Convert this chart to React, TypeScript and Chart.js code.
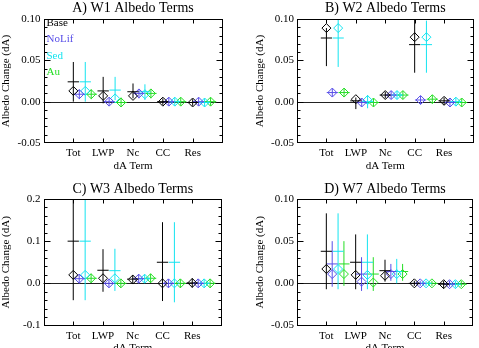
import React, { useEffect, useRef } from 'react';
import { Chart, registerables } from 'chart.js';

Chart.register(...registerables);

// ---------- data ----------
const categories = ['Tot', 'LWP', 'Nc', 'CC', 'Res'];
const seriesNames = ['Base', 'NoLif', 'Sed', 'Au'];
const seriesColors = ['#000000', 'rgb(88,78,232)', 'rgb(20,228,240)', 'rgb(36,222,36)'];
const seriesOffsets = [0, 0.2, 0.4, 0.6];

const yTicksSmall = [-0.05, 0, 0.05, 0.1];
const yLabelsSmall = ['-0.05', '0.00', '0.05', '0.10'];
const yTicksLarge = [-0.1, 0, 0.1, 0.2];
const yLabelsLarge = ['-0.1', '0.0', '0.1', '0.2'];

// W1 : rows = Base, NoLif, Sed, Au ; columns = Tot, LWP, Nc, CC, Res
const w1Mean = [
  [0.013, 0.007, 0.007, 0.0, -0.001],
  [0.009, 0.0, 0.010, 0.0, 0.0],
  [0.013, 0.004, 0.009, 0.0, -0.001],
  [0.009, -0.001, 0.010, 0.0, 0.0],
];
const w1Median = [
  [0.024, 0.013, 0.012, 0.0, -0.001],
  [0.009, 0.0, 0.010, 0.0, 0.0],
  [0.024, 0.014, 0.012, 0.0, -0.001],
  [0.009, -0.001, 0.010, 0.0, 0.0],
];
const w1Lo = [
  [0.0, -0.002, 0.004, -0.004, -0.005],
  [0.003, -0.005, 0.004, -0.005, -0.005],
  [0.0, 0.002, 0.002, -0.005, -0.006],
  [0.003, -0.006, 0.004, -0.005, -0.005],
];
const w1Hi = [
  [0.048, 0.030, 0.022, 0.004, 0.003],
  [0.015, 0.005, 0.015, 0.005, 0.005],
  [0.048, 0.030, 0.021, 0.005, 0.004],
  [0.015, 0.005, 0.015, 0.005, 0.005],
];

// W2
const w2Mean = [
  [0.089, 0.003, 0.008, 0.078, 0.001],
  [0.011, -0.001, 0.008, 0.002, -0.001],
  [0.089, 0.002, 0.008, 0.078, 0.0],
  [0.011, -0.001, 0.008, 0.003, -0.001],
];
const w2Median = [
  [0.077, 0.001, 0.008, 0.069, 0.001],
  [0.011, -0.001, 0.008, 0.002, -0.001],
  [0.077, 0.0, 0.008, 0.069, 0.0],
  [0.011, -0.001, 0.008, 0.003, -0.001],
];
const w2Lo = [
  [0.043, -0.009, 0.004, 0.035, -0.004],
  [0.006, -0.006, 0.003, -0.003, -0.006],
  [0.042, -0.008, 0.003, 0.035, -0.005],
  [0.006, -0.006, 0.003, -0.002, -0.006],
];
const w2Hi = [
  [0.089, 0.005, 0.012, 0.105, 0.005],
  [0.016, 0.004, 0.013, 0.007, 0.004],
  [0.105, 0.008, 0.013, 0.098, 0.005],
  [0.016, 0.004, 0.013, 0.008, 0.004],
];

// W3
const w3Mean = [
  [0.020, 0.012, 0.009, 0.0, 0.001],
  [0.011, 0.0, 0.011, 0.0, 0.0],
  [0.020, 0.012, 0.011, 0.0, 0.0],
  [0.012, 0.0, 0.012, 0.0, 0.0],
];
const w3Median = [
  [0.100, 0.031, 0.010, 0.050, 0.001],
  [0.011, 0.0, 0.011, 0.0, 0.0],
  [0.100, 0.030, 0.011, 0.050, 0.0],
  [0.012, 0.0, 0.012, 0.0, 0.0],
];
const w3Lo = [
  [-0.040, -0.020, 0.0, -0.042, -0.010],
  [0.0, -0.010, 0.0, -0.010, -0.010],
  [-0.040, -0.018, 0.001, -0.045, -0.010],
  [0.001, -0.010, 0.001, -0.010, -0.010],
];
const w3Hi = [
  [0.25, 0.081, 0.020, 0.145, 0.012],
  [0.022, 0.010, 0.022, 0.010, 0.010],
  [0.25, 0.082, 0.021, 0.145, 0.010],
  [0.023, 0.010, 0.023, 0.010, 0.010],
];

// W7
const w7Mean = [
  [0.017, 0.010, 0.009, 0.0, -0.001],
  [0.011, 0.002, 0.011, 0.0, -0.001],
  [0.017, 0.010, 0.011, 0.0, -0.001],
  [0.011, 0.001, 0.011, 0.0, -0.001],
];
const w7Median = [
  [0.038, 0.025, 0.015, 0.0, -0.001],
  [0.023, 0.011, 0.014, 0.0, -0.001],
  [0.038, 0.025, 0.014, 0.0, -0.001],
  [0.023, 0.011, 0.014, 0.0, -0.001],
];
const w7Lo = [
  [-0.007, -0.007, 0.002, -0.003, -0.006],
  [-0.004, -0.009, 0.003, -0.003, -0.004],
  [-0.007, -0.007, 0.0, -0.003, -0.005],
  [-0.003, -0.009, 0.003, -0.003, -0.004],
];
const w7Hi = [
  [0.083, 0.058, 0.028, 0.003, 0.003],
  [0.050, 0.031, 0.023, 0.003, 0.003],
  [0.083, 0.058, 0.029, 0.003, 0.003],
  [0.050, 0.031, 0.023, 0.003, 0.003],
];

// ---------- layout ----------
const FONT = "'Liberation Serif', 'Times New Roman', serif";

type PanelCfg = {
  title: string;
  mean: number[][];
  median: number[][];
  lo: number[][];
  hi: number[][];
  yTicks: number[];
  yLabels: string[];
  yMin: number;
  yMax: number;
  minor: number;
  legend: boolean;
  left: number;
  top: number;
  w: number;
  h: number;
  pad: { left: number; right: number; top: number; bottom: number };
  titleGap: number;
};

const panels: PanelCfg[] = [
  {
    title: 'A) W1 Albedo Terms', mean: w1Mean, median: w1Median, lo: w1Lo, hi: w1Hi,
    yTicks: yTicksSmall, yLabels: yLabelsSmall, yMin: -0.05, yMax: 0.1, minor: 0.01, legend: true,
    left: 0, top: 0, w: 240, h: 174, pad: { left: 0, right: 17.5, top: 19, bottom: 1.7 }, titleGap: 11,
  },
  {
    title: 'B) W2 Albedo Terms', mean: w2Mean, median: w2Median, lo: w2Lo, hi: w2Hi,
    yTicks: yTicksSmall, yLabels: yLabelsSmall, yMin: -0.05, yMax: 0.1, minor: 0.01, legend: false,
    left: 240, top: 0, w: 239, h: 174, pad: { left: 13.5, right: 5, top: 19, bottom: 1.7 }, titleGap: 11,
  },
  {
    title: 'C) W3 Albedo Terms', mean: w3Mean, median: w3Median, lo: w3Lo, hi: w3Hi,
    yTicks: yTicksLarge, yLabels: yLabelsLarge, yMin: -0.1, yMax: 0.2, minor: 0.02, legend: false,
    left: 0, top: 174, w: 240, h: 184, pad: { left: 0, right: 18, top: 25, bottom: 3.2 }, titleGap: 9.5,
  },
  {
    title: 'D) W7 Albedo Terms', mean: w7Mean, median: w7Median, lo: w7Lo, hi: w7Hi,
    yTicks: yTicksSmall, yLabels: yLabelsSmall, yMin: -0.05, yMax: 0.1, minor: 0.01, legend: false,
    left: 240, top: 174, w: 239, h: 184, pad: { left: 13.5, right: 6, top: 25, bottom: 3.2 }, titleGap: 9.5,
  },
];

const ARM = 0.19;

function buildDatasets(p: PanelCfg) {
  const ds: any[] = [];
  seriesNames.forEach((name, s) => {
    const color = seriesColors[s];
    const bars: any[] = [];
    const arms: any[] = [];
    const pts: any[] = [];
    categories.forEach((_, c) => {
      const x = c + 1 + seriesOffsets[s];
      bars.push({ x, y: p.lo[s][c] }, { x, y: p.hi[s][c] }, { x, y: null });
      arms.push({ x: x - ARM, y: p.median[s][c] }, { x: x + ARM, y: p.median[s][c] }, { x, y: null });
      pts.push({ x, y: p.mean[s][c] });
    });
    ds.push({
      label: name + ' range', data: bars, showLine: true, spanGaps: false,
      borderColor: color, borderWidth: 1, pointRadius: 0, fill: false,
    });
    ds.push({
      label: name + ' median', data: arms, showLine: true, spanGaps: false,
      borderColor: color, borderWidth: 1, pointRadius: 0, fill: false,
    });
    ds.push({
      label: name, data: pts, showLine: false, pointStyle: 'rectRot', pointRadius: 4.5,
      borderColor: color, backgroundColor: 'rgba(0,0,0,0)', pointBorderWidth: 1,
    });
  });
  return ds;
}

function framePlugin(p: PanelCfg) {
  return {
    id: 'frame',
    beforeDatasetsDraw(chart: any) {
      const { ctx, chartArea: a, scales } = chart;
      const y0 = Math.round(scales.y.getPixelForValue(0)) + 0.5;
      ctx.save();
      ctx.strokeStyle = '#222';
      ctx.lineWidth = 1;
      ctx.beginPath();
      ctx.moveTo(a.left, y0);
      ctx.lineTo(a.right, y0);
      ctx.stroke();
      ctx.restore();
    },
    afterDraw(chart: any) {
      const { ctx, chartArea: a, scales } = chart;
      const L = Math.round(a.left) + 0.5;
      const R = Math.round(a.right) - 0.5;
      const T = Math.round(a.top) + 0.5;
      const B = Math.round(a.bottom) - 0.5;
      ctx.save();
      ctx.strokeStyle = '#000';
      ctx.lineWidth = 1;
      ctx.strokeRect(L, T, R - L, B - T);
      ctx.beginPath();
      // y ticks (major + minor) on left and right
      const n = Math.round((p.yMax - p.yMin) / p.minor);
      for (let i = 1; i < n; i++) {
        const v = p.yMin + i * p.minor;
        const py = Math.round(scales.y.getPixelForValue(v)) + 0.5;
        const len = i % 5 === 0 ? 6 : 3;
        ctx.moveTo(L, py); ctx.lineTo(L + len, py);
        ctx.moveTo(R, py); ctx.lineTo(R - len, py);
      }
      // x ticks top and bottom
      categories.forEach((_, c) => {
        const px = Math.round(scales.x.getPixelForValue(c + 1)) + 0.5;
        ctx.moveTo(px, B); ctx.lineTo(px, B - 4);
        ctx.moveTo(px, T); ctx.lineTo(px, T + 4);
      });
      ctx.stroke();
      // title
      ctx.fillStyle = '#000';
      ctx.font = `14px ${FONT}`;
      ctx.textAlign = 'center';
      ctx.textBaseline = 'middle';
      ctx.fillText(p.title, (a.left + a.right) / 2, a.top - p.titleGap);
      // legend
      if (p.legend) {
        ctx.font = `11px ${FONT}`;
        ctx.textAlign = 'left';
        seriesNames.forEach((name, s) => {
          ctx.fillStyle = seriesColors[s];
          ctx.fillText(name, a.left + 3, a.top + 4 + s * 16.5);
        });
      }
      ctx.restore();
    },
  };
}

function Panel({ p }: { p: PanelCfg }) {
  const ref = useRef<HTMLCanvasElement | null>(null);
  useEffect(() => {
    if (!ref.current) return;
    const font = { family: FONT, size: 11 };
    const chart = new Chart(ref.current, {
      type: 'scatter',
      data: { datasets: buildDatasets(p) },
      options: {
        responsive: false,
        animation: false,
        devicePixelRatio: 1,
        events: [],
        layout: { padding: p.pad },
        plugins: { legend: { display: false }, tooltip: { enabled: false }, title: { display: false } },
        scales: {
          x: {
            type: 'linear',
            min: 0,
            max: 6,
            afterBuildTicks: (s: any) => {
              s.ticks = categories.map((_, i) => ({ value: i + 1 }));
            },
            ticks: {
              callback: (v: any) => categories[Math.round(Number(v)) - 1] ?? '',
              font, color: '#000', padding: 4, maxRotation: 0, autoSkip: false,
            },
            grid: { display: false, drawTicks: false },
            border: { display: false },
            title: { display: true, text: 'dA Term', font, color: '#000', padding: 0 },
            afterFit: (s: any) => { s.height = 29.3; },
          },
          y: {
            type: 'linear',
            min: p.yMin,
            max: p.yMax,
            afterBuildTicks: (s: any) => {
              s.ticks = p.yTicks.map((v) => ({ value: v }));
            },
            ticks: {
              callback: (_v: any, i: number) => p.yLabels[i],
              font, color: '#000', padding: 3, autoSkip: false,
            },
            grid: { display: false, drawTicks: false },
            border: { display: false },
            title: { display: true, text: 'Albedo Change (dA)', font, color: '#000', padding: 0 },
            afterFit: (s: any) => { s.width = 43.5; },
          },
        },
      } as any,
      plugins: [framePlugin(p)],
    });
    return () => chart.destroy();
  }, [p]);
  return (
    <div style={{ position: 'absolute', left: p.left, top: p.top, width: p.w, height: p.h }}>
      <canvas ref={ref} width={p.w} height={p.h} style={{ width: p.w, height: p.h, display: 'block' }} />
    </div>
  );
}

export default function App() {
  return (
    <div style={{ position: 'absolute', left: 0, top: 0, width: 479, height: 348, overflow: 'hidden', background: '#fff' }}>
      {panels.map((p) => (
        <Panel key={p.title} p={p} />
      ))}
    </div>
  );
}
